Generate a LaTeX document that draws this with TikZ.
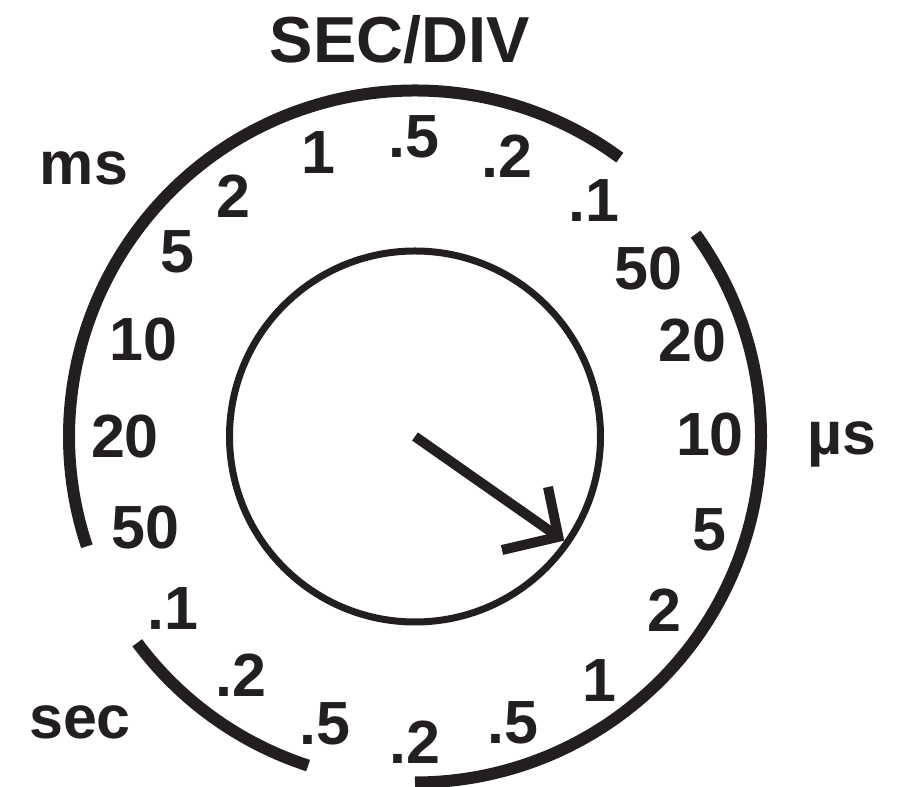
\documentclass[tikz,border=0pt]{standalone}
\usepackage{fontspec}
\setmainfont{Liberation Sans}
\definecolor{dialink}{HTML}{231F20}

\begin{document}
\begin{tikzpicture}[
    every node/.style={font=\bfseries\fontsize{34.7}{40}\selectfont, text=dialink, inner sep=0pt},
    rangearc/.style={line width=0.24cm, dialink},
    needle/.style={line width=0.2cm, dialink}]
    \useasboundingbox (-8.30,-7.01) rectangle (10.02,8.73);
    \coordinate (c) at (0,0);
    % knob and pointer
    \draw[line width=0.14cm, dialink] (c) circle (3.71);
    \coordinate (tip) at (-35:3.5);
    \draw[needle] (c) -- (tip);
    \draw[needle, line join=miter] (2.66,-1.01) -- (tip) -- (1.74,-2.27);
    % range arcs
    \draw[rangearc] (53.7:6.92) arc[start angle=53.7, end angle=198.5, radius=6.92];
    \draw[rangearc] (35.8:6.92) arc[start angle=35.8, end angle=-90, radius=6.92];
    \draw[rangearc] (216.6:6.92) arc[start angle=216.6, end angle=252, radius=6.92];
    % scale
    \foreach \ang/\rad/\lab [count=\i] in {90.2/5.99/.5, 71.8/5.90/.2, 52.8/5.92/.1,
        35.8/5.76/50, 19.1/5.88/20, 0.3/5.90/10, -17.6/6.18/5, -34.8/6.08/2,
        -52.9/6.13/1, -71.1/6.06/.5, -90/6.11/.2, -107.4/6.02/.5, -126.1/5.90/.2,
        -144.5/5.94/.1, -161.3/5.70/50, 180/5.80/20, 160.4/5.76/10, 142.2/6.02/5,
        127/6.02/2, 108.8/6.01/1}{
        \node (pos\i) at (\ang:\rad) {\lab};
    }
    \node[font=\bfseries\fontsize{37}{44}\selectfont, anchor=base] (title) at (-0.30,7.47) {SEC/DIV};
    \node[anchor=base] (ms) at (-6.62,5.03) {ms};
    \node[anchor=base] (sec) at (-6.70,-6.05) {sec};
    \node[anchor=base] (us) at (8.54,-0.37) {µs};
\end{tikzpicture}
\end{document}
